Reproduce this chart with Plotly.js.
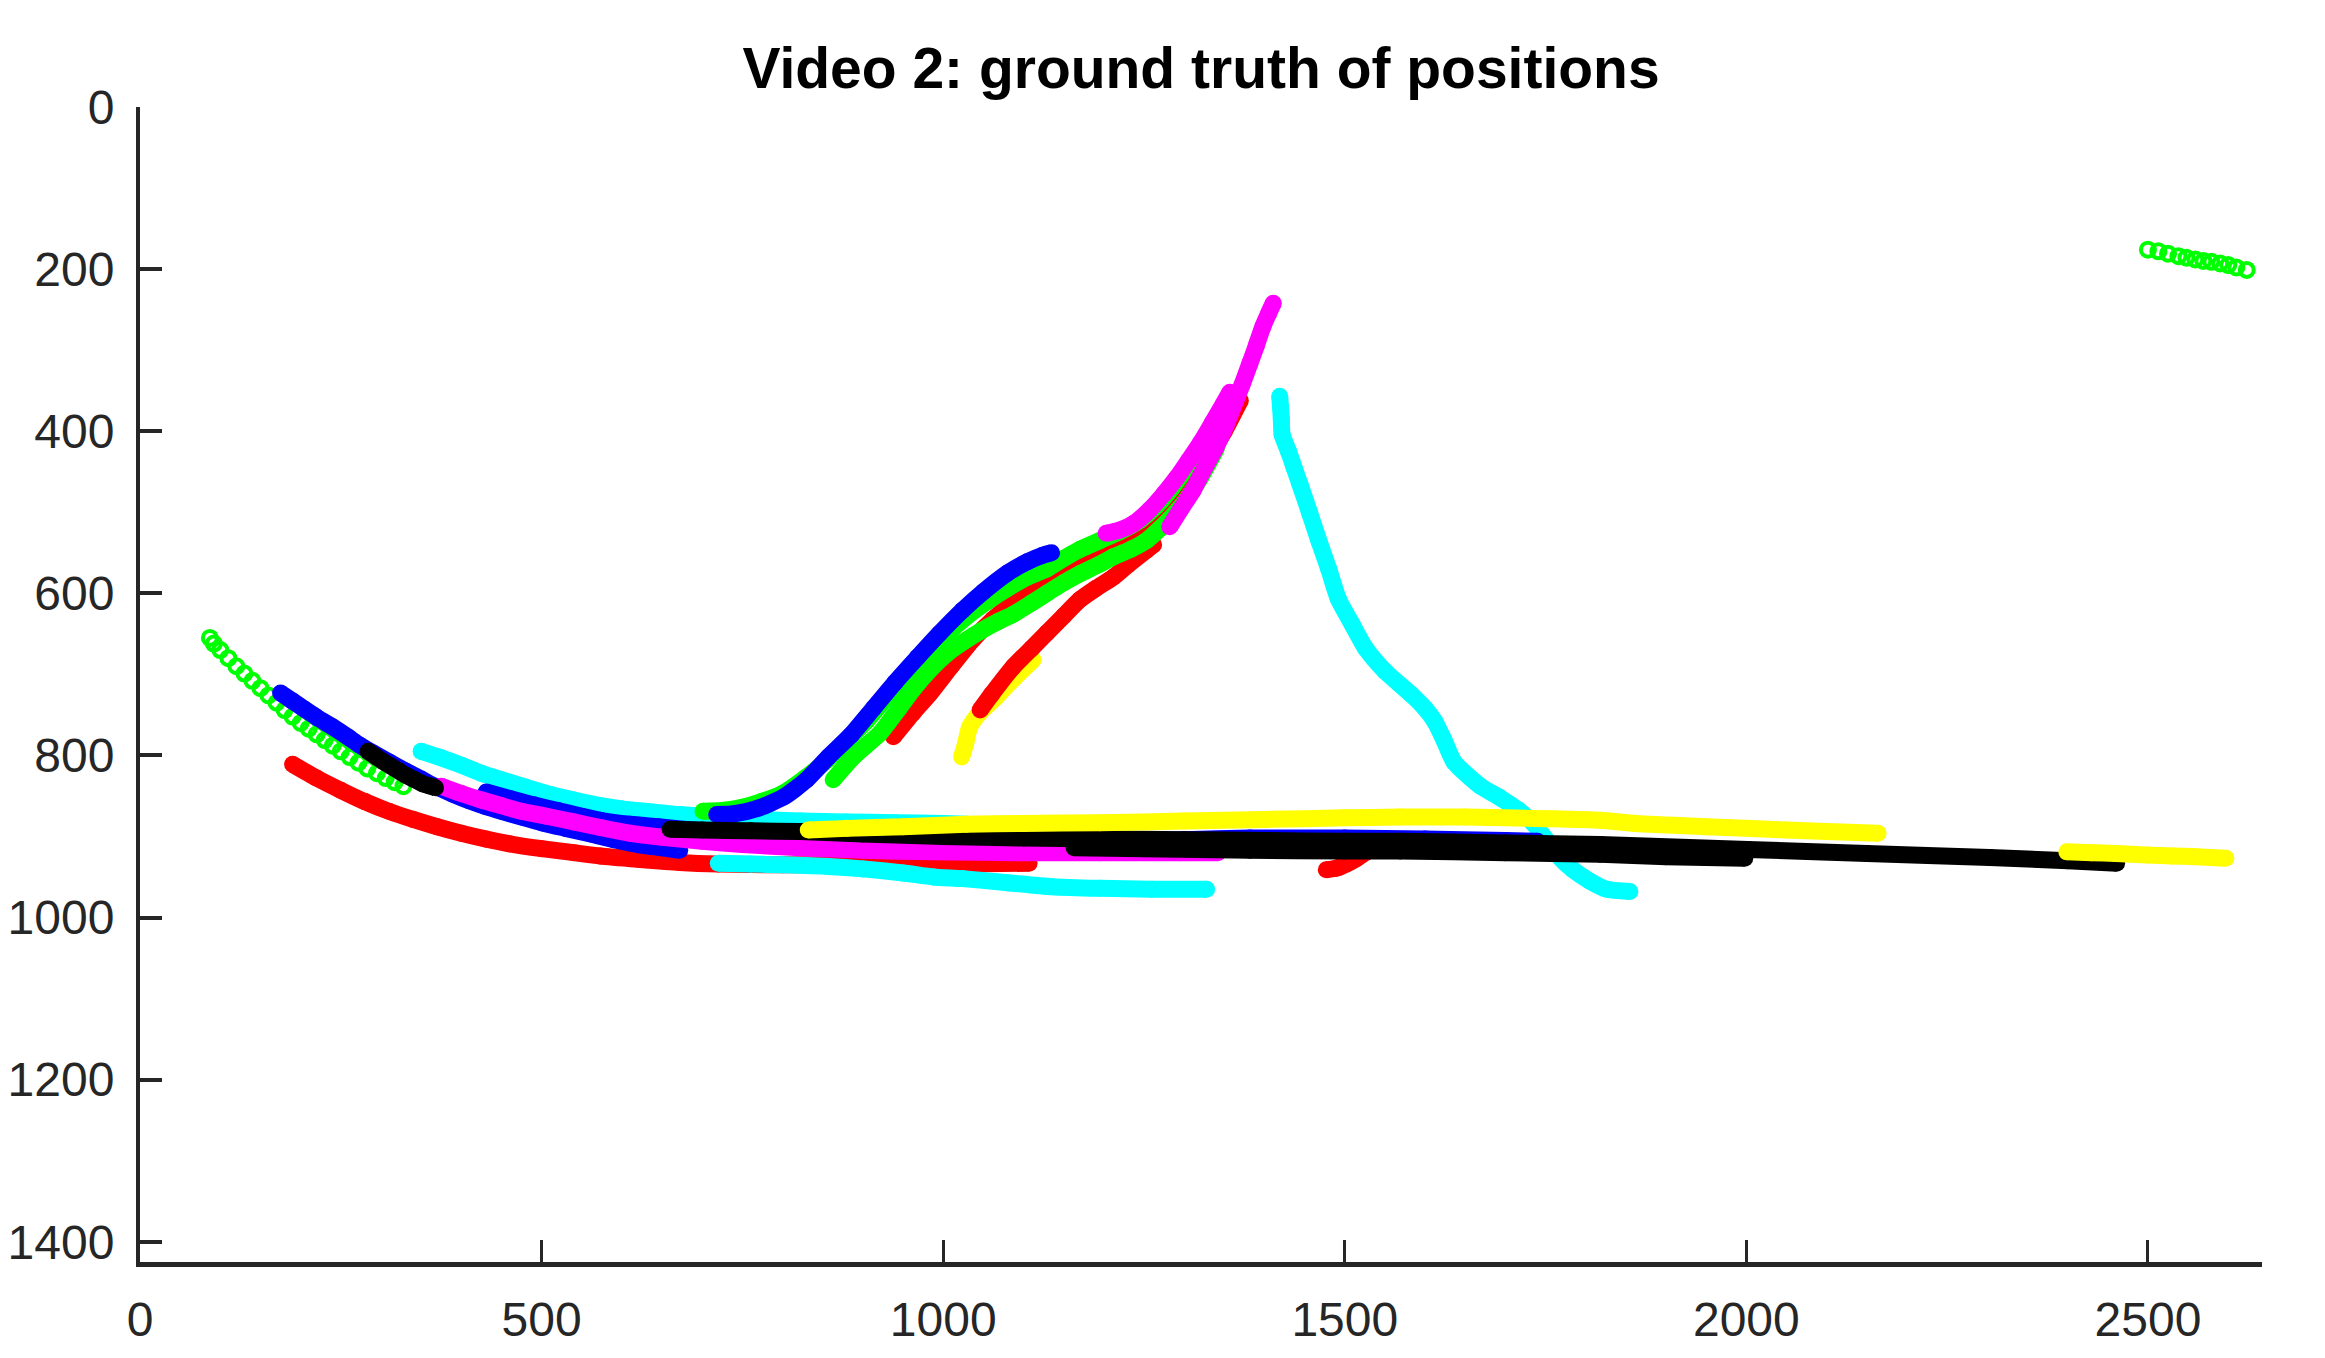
<!DOCTYPE html>
<html>
<head>
<meta charset="utf-8">
<script src="https://cdn.plot.ly/plotly-3.0.1.min.js"></script>
<style>html,body{margin:0;padding:0;background:#fff;}#chart{width:2325px;height:1358px;}</style>
</head>
<body>
<div id="chart"></div>
<script>
// ---- Trajectory data (x, y in image pixels) ----
// Cyan
const c3X = [1419,1420,1421,1422,1430,1437,1444,1456,1468,1480,1492,1509,1526,1550,1583,1600,1612,1624,1636,1669,1693,1717,1734,1750,1764,1784,1805,1826,1855];
const c3Y = [357,370,385,404,425,445,465,500,536,570,607,638,668,696,725,742,758,782,808,838,852,868,883,903,922,941,955,965,968];
const c1X = [350,375,400,425,450,480,510,540,573,600,640,672,720,770,822,880,940,1000,1030];
const c1Y = [795,803,812,822,830,839,848,855,862,866,870,873,876,879,881,882,883,884,885];
const c2X = [720,760,800,857,900,950,988,1024,1080,1135,1195,1260,1328];
const c2Y = [933,934,935,937,940,945,950,952,957,962,964,965,965];
// Red
const r1X = [190,220,250,280,310,340,370,400,430,460,500,540,573,620,672,720,800,880,950,1030,1107];
const r1Y = [811,828,843,857,869,879,888,896,903,909,915,920,924,928,932,934,935,935,935,934,933];
const r2X = [938,962,984,1010,1037,1062,1087,1110,1129,1150,1170,1195,1224,1250,1275,1300,1325,1350,1370];
const r2Y = [777,748,723,690,657,632,612,597,585,572,562,550,538,524,505,475,440,400,362];
const r3X = [1046,1060,1087,1110,1129,1150,1170,1190,1212,1230,1253,1262];
const r3Y = [744,725,691,668,649,628,608,594,580,565,547,540];
const r4X = [1477,1490,1502,1515,1527];
const r4Y = [941,939,934,927,919];
// Yellow
const y2X = [1023,1028,1033,1045,1066,1088,1112];
const y2Y = [802,785,765,748,728,705,682];
const y1X = [832,880,950,1029,1100,1195,1300,1400,1500,1569,1650,1750,1818,1863,1950,2050,2100,2164];
const y1Y = [892,890,888,885,884,883,881,879,877,876,876,878,880,884,888,892,894,896];
const y3X = [2399,2430,2460,2500,2530,2560,2597];
const y3Y = [919,920,921,923,924,925,927];
// Green
const g1X = [87,92,100,110,120,130,140,150,160,170,180,190,200,210,220,230,240,250,261,272,283,295,306,317,328];
const g1Y = [655,662,670,680,690,699,708,717,726,735,744,752,760,767,774,781,788,795,802,809,816,822,828,833,838];
const g2X = [2500,2513,2525,2538,2548,2559,2569,2579,2590,2600,2610,2623];
const g2Y = [176,178,181,184,186,188,190,191,193,195,198,201];
const g3X = [701,725,750,774,800,828,855,880,905,930,955,980,1005,1030,1055,1080,1105,1129,1150,1170,1195,1220,1245,1265,1285,1305,1325,1342];
const g3Y = [869,868,864,857,847,828,806,782,757,728,703,678,650,628,610,594,580,570,557,546,535,524,510,493,470,442,410,380];
const g4X = [863,890,921,945,963,985,1004,1025,1046,1068,1087,1110,1129,1150,1170,1195,1212,1235,1253,1270,1282,1300,1320,1340];
const g4Y = [830,800,773,742,718,693,675,660,647,635,626,612,600,587,576,564,555,545,535,520,508,488,458,422];
// Blue
const b1X = [175,190,205,220,240,260,273,290,310,330,350,367,390,410,430,450,475,500,530,561,590,620,650,672];
const b1Y = [723,733,743,753,765,778,787,797,808,819,829,838,848,856,863,869,876,883,890,897,904,910,914,917];
const b2X = [431,460,490,520,550,573,610,645,700,760,822,900,987,1050,1100,1195,1300,1382,1500,1600,1700,1740];
const b2Y = [845,853,861,868,875,880,885,888,893,897,900,903,906,907,907,906,904,902,902,903,905,906];
const b3X = [718,740,770,802,830,857,885,913,940,968,995,1024,1050,1080,1105,1124,1135];
const b3Y = [873,872,865,851,830,802,775,742,710,679,650,621,598,575,561,553,550];
// Magenta
const m1X = [375,400,425,450,475,506,540,573,610,650,700,750,822,900,987,1100,1195,1295,1342];
const m1Y = [838,847,855,862,869,875,882,889,896,901,906,910,914,917,919,920,920,920,920];
const m2X = [1203,1220,1237,1257,1275,1291,1305,1320,1335,1349,1357];
const m2Y = [526,522,514,497,477,457,437,415,390,366,352];
const m3X = [1282,1296,1311,1325,1340,1352,1361,1372,1382,1390,1398,1405,1411];
const m3Y = [518,496,473,446,419,393,370,343,316,294,271,255,242];
// Black
const k1X = [284,293,302,312,322,332,342,352,362,368];
const k1Y = [795,801,807,813,819,825,830,835,838,840];
const k2X = [660,700,760,822,900,1000,1100,1195,1300,1400,1500,1569,1700,1818,2002,2150,2303,2400,2461];
const k2Y = [891,892,893,894,897,900,902,903,904,905,906,906,908,910,916,921,926,930,933];
const k3X = [1163,1250,1382,1500,1569,1700,1818,1900,1998];
const k3Y = [914,915,917,918,918,920,922,925,927];

const xTicks = [0,500,1000,1500,2000,2500];
const yTicks = [0,200,400,600,800,1000,1200,1400];
const titleText = 'Video 2: ground truth of positions';

const C = {r:'#FF0000', g:'#00FF00', b:'#0000FF', c:'#00FFFF', m:'#FF00FF', y:'#FFFF00', k:'#000000'};

function band(x, y, col) {
  return {type:'scatter', mode:'lines+markers', x:x, y:y, hoverinfo:'skip',
    line:{color:col, width:17, shape:'spline', smoothing:0.6},
    marker:{symbol:'circle', size:17, color:col, line:{width:0}}};
}
function rings(x, y, col) {
  return {type:'scatter', mode:'markers', x:x, y:y, hoverinfo:'skip',
    marker:{symbol:'circle-open', size:14, color:col, line:{width:4, color:col}}};
}

const traces = [
  band(c3X, c3Y, C.c),
  band(c1X, c1Y, C.c),
  band(r1X, r1Y, C.r),
  band(c2X, c2Y, C.c),
  band(y2X, y2Y, C.y),
  band(r2X, r2Y, C.r),
  band(r3X, r3Y, C.r),
  band(r4X, r4Y, C.r),
  rings(g1X, g1Y, C.g),
  band(g3X, g3Y, C.g),
  band(g4X, g4Y, C.g),
  rings(g2X, g2Y, C.g),
  band(b1X, b1Y, C.b),
  band(b2X, b2Y, C.b),
  band(b3X, b3Y, C.b),
  band(m1X, m1Y, C.m),
  band(m2X, m2Y, C.m),
  band(m3X, m3Y, C.m),
  band(k1X, k1Y, C.k),
  band(k2X, k2Y, C.k),
  band(k3X, k3Y, C.k),
  band(y1X, y1Y, C.y),
  band(y3X, y3Y, C.y)
];

const axisFont = {family:'Liberation Sans, Arial, sans-serif', size:48, color:'#262626'};
const layout = {
  width:2325, height:1358,
  paper_bgcolor:'#ffffff', plot_bgcolor:'#ffffff',
  showlegend:false,
  margin:{l:140, r:63, t:107, b:96, pad:0},
  title:{text:'<b>'+titleText+'</b>', font:{family:'Liberation Sans, Arial, sans-serif', size:57, color:'#000000'},
    x:0.5, xref:'paper', xanchor:'center', y:1-68/1358, yref:'container', yanchor:'middle'},
  xaxis:{range:[0,2642], tickmode:'array', tickvals:xTicks, ticktext:xTicks.map(String),
    ticks:'inside', ticklen:22, tickwidth:3, tickcolor:'#262626',
    showline:true, linecolor:'#262626', linewidth:5, mirror:false,
    showgrid:false, zeroline:false, tickfont:axisFont, ticklabelstandoff:11},
  yaxis:{range:[1425,0], tickmode:'array', tickvals:yTicks, ticktext:yTicks.map(String),
    ticks:'inside', ticklen:22, tickwidth:4, tickcolor:'#262626',
    showline:true, linecolor:'#262626', linewidth:4, mirror:false,
    showgrid:false, zeroline:false, tickfont:axisFont, ticklabelstandoff:12}
};

Plotly.newPlot('chart', traces, layout, {staticPlot:true, displayModeBar:false});
</script>
</body>
</html>
